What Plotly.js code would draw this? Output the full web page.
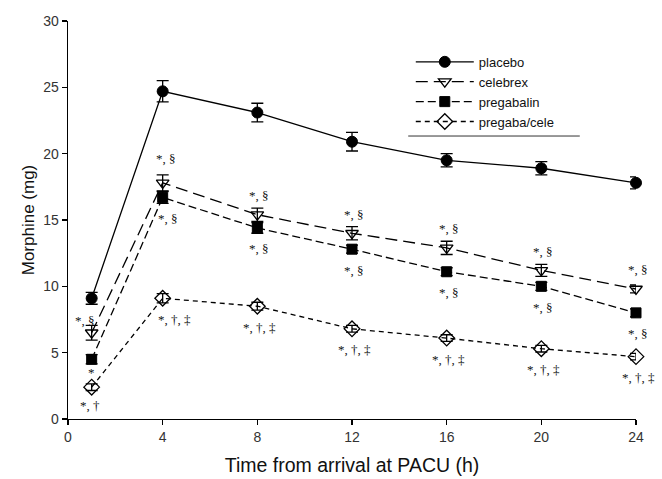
<!DOCTYPE html>
<html>
<head>
<meta charset="utf-8">
<script src="https://cdn.plot.ly/plotly-3.0.1.min.js"></script>
<style>
  html, body { margin: 0; padding: 0; background: #fff; }
  #chart { width: 662px; height: 479px; }
</style>
</head>
<body>
<div id="chart"></div>
<script>
// ---- data ----
const hours = [1, 4, 8, 12, 16, 20, 24];
const placebo = [9.1, 24.7, 23.1, 20.9, 19.5, 18.9, 17.8];
const placeboErr = [0.45, 0.8, 0.7, 0.7, 0.5, 0.5, 0.45];
const celebrex = [6.5, 17.8, 15.4, 14.0, 12.9, 11.2, 9.8];
const celebrexErr = [0.55, 0.6, 0.5, 0.5, 0.5, 0.45, 0.3];
const pregabalin = [4.5, 16.7, 14.4, 12.8, 11.1, 10.0, 8.0];
const pregabalinErr = [0.35, 0.45, 0.4, 0.3, 0.3, 0.3, 0.3];
const combo = [2.4, 9.1, 8.5, 6.8, 6.1, 5.3, 4.7];
const comboErr = [0.25, 0.35, 0.3, 0.25, 0.25, 0.25, 0.25];

const seriesNames = ["placebo", "celebrex", "pregabalin", "pregaba/cele"];
const celebrexMarks = ["*, §", "*, §", "*, §", "*, §", "*, §", "*, §", "*, §"];
const pregabalinMarks = ["*", "*, §", "*, §", "*, §", "*, §", "*, §", "*, §"];
const comboMarks = ["*, †", "*, †, ‡", "*, †, ‡", "*, †, ‡", "*, †, ‡", "*, †, ‡", "*, †, ‡"];

const xTicks = [0, 4, 8, 12, 16, 20, 24];
const yTicks = [0, 5, 10, 15, 20, 25, 30];

// ---- styling ----
const lw = 1.3;
function errStyle(arr) {
  return { type: 'data', array: arr, visible: true, color: '#000', thickness: 1.3, width: 6 };
}

const traces = [
  {
    x: hours, y: placebo, name: seriesNames[0], type: 'scatter', mode: 'lines+markers',
    line: { color: '#000', width: lw, dash: 'solid' },
    marker: { symbol: 'circle', size: 11, color: '#000', line: { color: '#000', width: 1 } },
    error_y: errStyle(placeboErr), cliponaxis: false
  },
  {
    x: hours, y: celebrex, name: seriesNames[1], type: 'scatter', mode: 'lines+markers',
    line: { color: '#000', width: lw, dash: '12px,6px' },
    marker: { symbol: 'triangle-down-open', size: 11, color: '#000', line: { color: '#000', width: 1.3 } },
    error_y: errStyle(celebrexErr), cliponaxis: false
  },
  {
    x: hours, y: pregabalin, name: seriesNames[2], type: 'scatter', mode: 'lines+markers',
    line: { color: '#000', width: lw, dash: '8px,4px' },
    marker: { symbol: 'square', size: 10, color: '#000', line: { color: '#000', width: 1 } },
    error_y: errStyle(pregabalinErr), cliponaxis: false
  },
  {
    x: hours, y: combo, name: seriesNames[3], type: 'scatter', mode: 'lines+markers',
    line: { color: '#000', width: lw, dash: '5px,4px' },
    marker: { symbol: 'diamond-open', size: 12, color: '#000', line: { color: '#000', width: 1.3 } },
    error_y: errStyle(comboErr), cliponaxis: false
  }
];

// ---- significance annotations ----
const annFont = { family: 'Liberation Serif, Times New Roman, serif', size: 13, color: '#111' };
const annotations = [];
hours.forEach((h, i) => {
  const first = i === 0;
  annotations.push({
    x: h, y: celebrex[i], xref: 'x', yref: 'y', text: celebrexMarks[i], showarrow: false,
    font: annFont, xshift: first ? -7 : (i === 1 ? 3 : 2), yshift: first ? 12 : (i === 1 ? 24 : 19)
  });
  annotations.push({
    x: h, y: pregabalin[i], xref: 'x', yref: 'y', text: pregabalinMarks[i], showarrow: false,
    font: annFont, xshift: first ? 0 : (i === 1 ? 5 : 2), yshift: first ? -13 : -21
  });
  annotations.push({
    x: h, y: combo[i], xref: 'x', yref: 'y', text: comboMarks[i], showarrow: false,
    font: annFont, xshift: first ? -2 : (i === 1 ? 12 : 2), yshift: first ? -18 : -21
  });
});

const axisFont = { family: 'Liberation Sans, Arial, sans-serif', size: 14, color: '#333' };

const layout = {
  width: 662, height: 479,
  margin: { l: 68, r: 26, t: 21, b: 60 },
  paper_bgcolor: '#fff', plot_bgcolor: '#fff',
  font: { family: 'Liberation Sans, Arial, sans-serif', color: '#111' },
  showlegend: true,
  legend: {
    x: 0.6035, y: 0.935, xanchor: 'left', yanchor: 'top',
    bgcolor: 'rgba(0,0,0,0)', borderwidth: 0,
    font: { family: 'Liberation Sans, Arial, sans-serif', size: 13, color: '#111' },
    itemwidth: 58, tracegroupgap: 0
  },
  xaxis: {
    range: [0, 24], tickvals: xTicks, ticktext: xTicks.map(String),
    showgrid: false, zeroline: false, showline: true, linecolor: '#000', linewidth: 1.3,
    ticks: 'outside', ticklen: 5, tickwidth: 1.3, tickcolor: '#000',
    tickfont: axisFont,
    title: { text: 'Time from arrival at PACU (h)', font: { family: 'Liberation Sans, Arial, sans-serif', size: 19.5, color: '#111' }, standoff: 14 }
  },
  yaxis: {
    range: [0, 30], tickvals: yTicks, ticktext: yTicks.map(String),
    showgrid: false, zeroline: false, showline: true, linecolor: '#000', linewidth: 1.3,
    ticks: 'outside', ticklen: 5, tickwidth: 1.3, tickcolor: '#000',
    tickfont: axisFont,
    title: { text: 'Morphine (mg)', font: { family: 'Liberation Sans, Arial, sans-serif', size: 17, color: '#111' }, standoff: 4 }
  },
  shapes: [
    { type: 'line', xref: 'paper', yref: 'paper', x0: 0.599, x1: 0.901, y0: 0.711, y1: 0.711,
      line: { color: '#333', width: 1 } }
  ],
  annotations: annotations
};

Plotly.newPlot('chart', traces, layout, { displayModeBar: false, staticPlot: true });
</script>
</body>
</html>
